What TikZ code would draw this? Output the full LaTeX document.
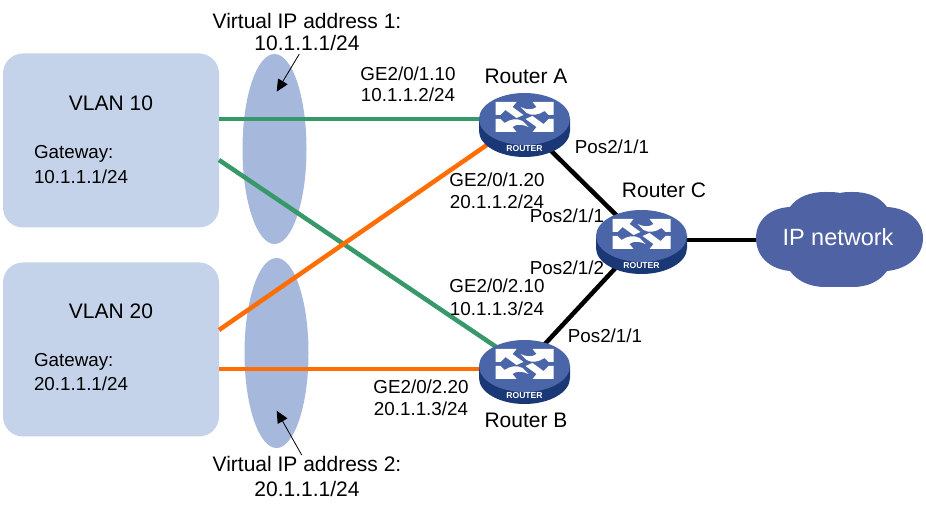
\documentclass[tikz,border=0pt]{standalone}
\usepackage{fontspec}
\setmainfont{Liberation Sans}
\usetikzlibrary{arrows.meta}
\usetikzlibrary{shapes.geometric}
\definecolor{boxColor}{RGB}{197,211,234}
\definecolor{vipColor}{RGB}{166,184,220}
\definecolor{greenColor}{RGB}{56,153,104}
\definecolor{orangeColor}{RGB}{255,110,5}
\definecolor{topColor}{RGB}{74,101,168}
\definecolor{sideColor}{RGB}{27,56,118}
\definecolor{cloudColor}{RGB}{79,99,164}
\tikzset{
  lbl/.style={text=black,anchor=base,inner sep=0pt,outer sep=0pt,font=\fontsize{18.8}{20}\selectfont},
  lblbig/.style={lbl,font=\fontsize{21}{23}\selectfont},
  lblw/.style={lbl,anchor=base west},
  vlanbox/.style={fill=boxColor,rounded corners=20pt,minimum width=216pt,minimum height=174pt,inner sep=0pt},
  vipring/.style={fill=vipColor,ellipse,minimum width=64pt,minimum height=190pt,inner sep=0pt},
  vlink/.style={line width=4.5pt},
  tagline/.style={draw=black,line width=0.8pt,-{Triangle[length=12pt,width=11pt]}},
  router/.pic={
    \path[fill=sideColor] (-45.5,0) -- (-45.5,-12) arc (180:360:45.5 and 26) -- (45.5,0) -- cycle;
    \path[fill=topColor] (0,0) ellipse (45.5 and 26);
    \begin{scope}[shift={(0,3)}]
    \path[fill=white] (-29,14) -- (-8,14) -- (-12,9) -- (-1,1) -- (-8,-2) -- (-19,6) -- (-24,1) -- (-29,1) -- cycle;
    \path[fill=white] (29,14) -- (8,14) -- (12,9) .. controls (6,5) and (1,7) .. (-4,9) -- (2,3) .. controls (8,0) and (14,1) .. (20,5) -- (24,1) -- (29,1) -- cycle;
    \path[fill=white] (-29,-16) -- (-8,-16) -- (-12,-11) .. controls (-6,-7) and (-1,-9) .. (4,-11) -- (-2,-5) .. controls (-8,-2) and (-14,-3) .. (-20,-7) -- (-24,-3) -- (-29,-3) -- cycle;
    \path[fill=white] (29,-16) -- (8,-16) -- (12,-11) -- (1,-3) -- (8,0) -- (19,-8) -- (24,-3) -- (29,-3) -- cycle;
    \end{scope}
    \node (-tag) at (0,-30) [text=white,inner sep=0pt,font=\fontsize{8.6}{9}\selectfont\bfseries] {ROUTER};
  }
}
\begin{document}
\begin{tikzpicture}[x=1pt,y=1pt]
\path[use as bounding box,fill=white] (0,0) rectangle (926,508);

\node[vlanbox] (vlan10) at (111,367.5) {};
\node[vlanbox] (vlan20) at (111,158.5) {};
\node[vipring] (vip1) at (274.5,359) {};
\node[vipring] (vip2) at (276.5,155) {};

\coordinate (ra) at (524.5,389);
\coordinate (rb) at (524.5,142);
\coordinate (rc) at (641.5,272);
\coordinate (rahub) at (530,378);
\coordinate (rchub) at (641.5,268);
\coordinate (ipnet) at (838,268);
\coordinate (e10a) at (219,389);
\coordinate (e10b) at (219,348);
\coordinate (e20a) at (219,178);
\coordinate (e20b) at (219,139);

\path[draw=greenColor,vlink] (e10a) -- (ra);
\path[draw=greenColor,vlink] (e10b) -- (rb);
\path[draw=orangeColor,vlink] (e20a) -- (ra);
\path[draw=orangeColor,vlink] (e20b) -- (rb |- e20b);
\path[draw=black,vlink] (rahub) -- (rchub);
\path[draw=black,vlink] (rb) -- (rchub);
\path[draw=black,vlink] (rchub) -- (ipnet);

\path (ra) pic (routera) {router};
\path (rb) pic (routerb) {router};
\path (rc) pic (routerc) {router};

% cloud
\path[fill=cloudColor] (790,301) .. controls (797,311) and (810,316) .. (825,316)
	.. controls (831,316) and (836,316) .. (840,315)
	.. controls (844,316) and (848,316) .. (853,316)
	.. controls (868,316) and (880,311) .. (887,301)
	.. controls (908,300) and (923,287) .. (923,270)
	.. controls (923,252) and (908,239) .. (887,237)
	.. controls (880,227) and (868,221) .. (853,221)
	.. controls (848,221) and (844,221) .. (840,221)
	.. controls (836,221) and (831,221) .. (825,221)
	.. controls (810,221) and (797,227) .. (790,237)
	.. controls (769,239) and (756,252) .. (756,270)
	.. controls (756,287) and (769,300) .. (790,301) -- cycle;
\node[lbl,text=white,font=\fontsize{23.5}{25}\selectfont] (ipname) at (838,262) {IP network};

\node[lblbig] (n10) at (111,397) {VLAN 10};
\node[lblw] (g10) at (34,349) {Gateway:};
\node[lblw] (a10) at (34,324) {10.1.1.1/24};
\node[lblbig] (n20) at (111,189) {VLAN 20};
\node[lblw] (g20) at (34,141) {Gateway:};
\node[lblw] (a20) at (34,117) {20.1.1.1/24};

\node[lblbig] (v1a) at (307,479) {Virtual IP address 1:};
\node[lblbig] (v1b) at (307,457) {10.1.1.1/24};
\node[lblbig] (v2a) at (307,36) {Virtual IP address 2:};
\node[lblbig] (v2b) at (307,11) {20.1.1.1/24};
\coordinate (v1tail) at (299.3,454);
\coordinate (v1tip) at (276.7,416.3);
\coordinate (v2tail) at (301.7,53);
\coordinate (v2tip) at (276.7,97.3);
\path[tagline] (v1tail) -- (v1tip);
\path[tagline] (v2tail) -- (v2tip);

\node[lbl] (p1) at (408,427) {GE2/0/1.10};
\node[lbl] (p2) at (408,406) {10.1.1.2/24};
\node[lbl] (p3) at (497,321) {GE2/0/1.20};
\node[lbl] (p4) at (497,299) {20.1.1.2/24};
\node[lbl] (p5) at (497,215) {GE2/0/2.10};
\node[lbl] (p6) at (497,192) {10.1.1.3/24};
\node[lbl] (p7) at (421,114) {GE2/0/2.20};
\node[lbl] (p8) at (421,92) {20.1.1.3/24};

\node[lblbig] (ta) at (526,424) {Router A};
\node[lblbig] (tb) at (526,80) {Router B};
\node[lblbig] (tc) at (664,310) {Router C};

\node[lbl] (q1) at (612,354) {Pos2/1/1};
\node[lbl] (q2) at (567,285) {Pos2/1/1};
\node[lbl] (q3) at (567,233) {Pos2/1/2};
\node[lbl] (q4) at (605,165) {Pos2/1/1};
\end{tikzpicture}
\end{document}
